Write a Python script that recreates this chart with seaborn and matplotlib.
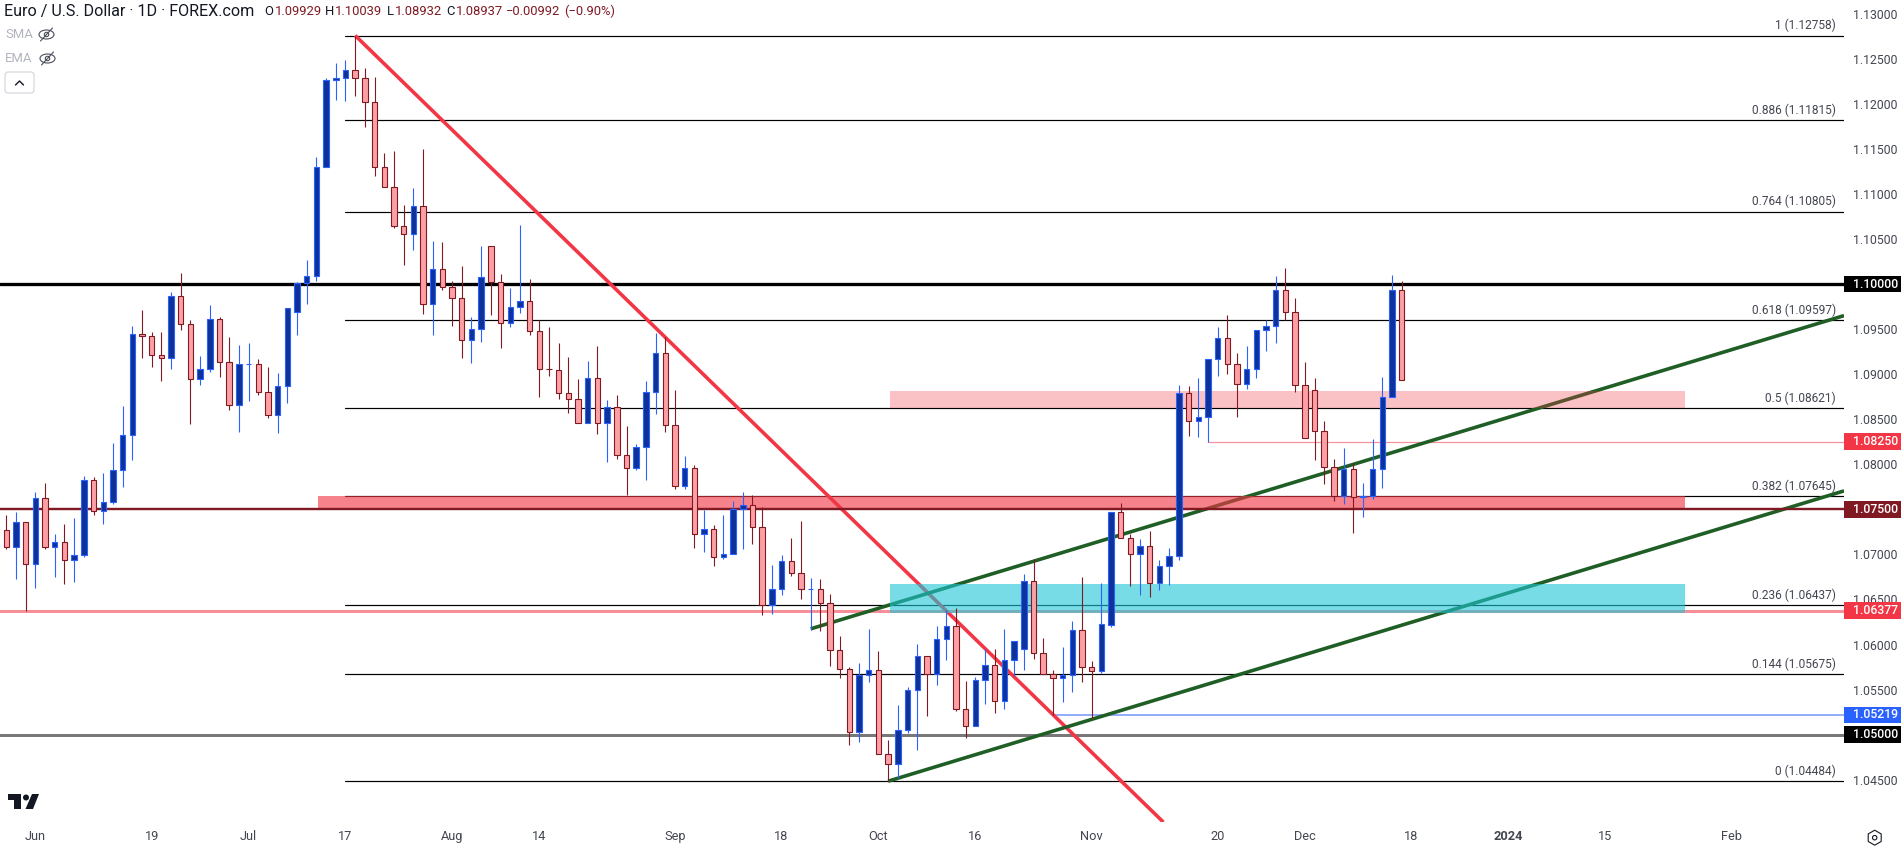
import numpy as np
import pandas as pd
import matplotlib
matplotlib.use('Agg')
import matplotlib.pyplot as plt
from matplotlib.patches import Rectangle, FancyBboxPatch, Ellipse, Circle, Polygon, RegularPolygon
import seaborn as sns

# daily EUR/USD candles
opens = [1.07269, 1.07077, 1.07358, 1.06892, 1.07625, 1.07077, 1.07136, 1.06936, 1.06992, 1.07824,
         1.07480, 1.07580, 1.07935, 1.08324, 1.09445, 1.09423, 1.09212, 1.09179, 1.09867, 1.09556,
         1.08946, 1.09057, 1.09612, 1.09134, 1.08657, 1.09112, 1.09112, 1.08801, 1.08546, 1.08868,
         1.09689, 1.10011, 1.10085, 1.11299, 1.12264, 1.12287, 1.12375, 1.12287, 1.12020, 1.11299,
         1.11077, 1.10640, 1.10555, 1.10862, 1.09778, 1.10167, 1.09967, 1.09845, 1.09378, 1.09501,
         1.10422, 1.10022, 1.09567, 1.09745, 1.09811, 1.09478, 1.09057, 1.09045, 1.08790, 1.08724,
         1.08457, 1.08957, 1.08457, 1.08635, 1.08106, 1.07954, 1.08187, 1.08801, 1.09234, 1.08435,
         1.07754, 1.07958, 1.07225, 1.07281, 1.06970, 1.07003, 1.07503, 1.07547, 1.07303, 1.06437,
         1.06615, 1.06925, 1.06792, 1.06615, 1.06615, 1.06459, 1.05937, 1.05727, 1.05027, 1.05660,
         1.05715, 1.04783, 1.04672, 1.05049, 1.05493, 1.05871, 1.05671, 1.06060, 1.06204, 1.05283,
         1.05094, 1.05604, 1.05771, 1.05371, 1.05826, 1.05949, 1.06703, 1.05904, 1.05671, 1.05627,
         1.05660, 1.06159, 1.05749, 1.05704, 1.06222, 1.07469, 1.07181, 1.07003, 1.07092, 1.06681,
         1.06870, 1.06981, 1.08790, 1.08479, 1.08524, 1.09168, 1.09401, 1.09112, 1.08890, 1.09057,
         1.09489, 1.09534, 1.09933, 1.09689, 1.08879, 1.08823, 1.08368, 1.07969, 1.07647, 1.07947,
         1.07636, 1.07647, 1.07947, 1.08746, 1.09929]
highs = [1.07440, 1.07473, 1.07358, 1.07691, 1.07791, 1.07229, 1.07340, 1.07406, 1.07873, 1.07861,
         1.07906, 1.08239, 1.08650, 1.09538, 1.09715, 1.09471, 1.09471, 1.09915, 1.10126, 1.09604,
         1.09205, 1.09771, 1.09637, 1.09415, 1.09327, 1.09349, 1.09171, 1.09082, 1.09016, 1.09734,
         1.10026, 1.10270, 1.11413, 1.12287, 1.12453, 1.12486, 1.12758, 1.12398, 1.12298, 1.11458,
         1.11480, 1.10881, 1.11066, 1.11502, 1.10481, 1.10470, 1.10037, 1.10204, 1.09637, 1.10426,
         1.10422, 1.10115, 1.09959, 1.10659, 1.10059, 1.09604, 1.09526, 1.09349, 1.09193, 1.08949,
         1.09149, 1.09316, 1.08716, 1.08772, 1.08428, 1.08228, 1.08927, 1.09460, 1.09412, 1.08827,
         1.08095, 1.07991, 1.07495, 1.07329, 1.07440, 1.07595, 1.07695, 1.07662, 1.07525, 1.06885,
         1.06996, 1.07184, 1.07373, 1.06737, 1.06729, 1.06563, 1.06097, 1.05749, 1.05797, 1.06171,
         1.05930, 1.04942, 1.05331, 1.05530, 1.06008, 1.05871, 1.06208, 1.06385, 1.06407, 1.05597,
         1.05641, 1.05949, 1.05952, 1.06174, 1.06037, 1.06785, 1.06948, 1.06074, 1.05719, 1.05974,
         1.06263, 1.06751, 1.05819, 1.06685, 1.07469, 1.07573, 1.07229, 1.07173, 1.07262, 1.06940,
         1.07073, 1.08883, 1.08872, 1.08960, 1.09168, 1.09526, 1.09660, 1.09238, 1.09316, 1.09489,
         1.09604, 1.10093, 1.10181, 1.09848, 1.09138, 1.08960, 1.08479, 1.08058, 1.08183, 1.08013,
         1.07795, 1.08283, 1.08971, 1.10104, 1.10039]
lows = [1.07062, 1.06729, 1.06367, 1.06629, 1.07062, 1.06751, 1.06674, 1.06696, 1.06966, 1.07440,
        1.07340, 1.07562, 1.07750, 1.08050, 1.09182, 1.09082, 1.08927, 1.09060, 1.09493, 1.08450,
        1.08883, 1.09027, 1.08971, 1.08605, 1.08361, 1.08705, 1.08772, 1.08516, 1.08350, 1.08683,
        1.09438, 1.09782, 1.10037, 1.11299, 1.12046, 1.12035, 1.12091, 1.11746, 1.11195, 1.11077,
        1.10618, 1.10215, 1.10381, 1.09671, 1.09438, 1.09937, 1.09530, 1.09182, 1.09127, 1.09360,
        1.09660, 1.09293, 1.09526, 1.09682, 1.09438, 1.08749, 1.08983, 1.08727, 1.08572, 1.08457,
        1.08457, 1.08339, 1.08028, 1.08061, 1.07662, 1.07939, 1.07828, 1.08561, 1.08361, 1.07728,
        1.07728, 1.07073, 1.07029, 1.06874, 1.06951, 1.07003, 1.07062, 1.07118, 1.06330, 1.06341,
        1.06552, 1.06763, 1.06507, 1.06163, 1.06152, 1.05764, 1.05630, 1.04887, 1.04920, 1.05586,
        1.04783, 1.04484, 1.04517, 1.05016, 1.04831, 1.05209, 1.05553, 1.05830, 1.05264, 1.04964,
        1.05094, 1.05342, 1.05242, 1.05286, 1.05653, 1.05719, 1.05841, 1.05671, 1.05219, 1.05364,
        1.05475, 1.05586, 1.05183, 1.05686, 1.06200, 1.07181, 1.06652, 1.06552, 1.06533, 1.06607,
        1.06663, 1.06940, 1.08317, 1.08305, 1.08250, 1.08983, 1.09005, 1.08527, 1.08838, 1.08960,
        1.09260, 1.09349, 1.09600, 1.08805, 1.08291, 1.08050, 1.07784, 1.07595, 1.07562, 1.07240,
        1.07417, 1.07617, 1.07739, 1.08746, 1.08932]
closes = [1.07077, 1.07358, 1.06892, 1.07625, 1.07077, 1.07136, 1.06936, 1.06992, 1.07824, 1.07480,
          1.07580, 1.07935, 1.08324, 1.09445, 1.09423, 1.09212, 1.09179, 1.09867, 1.09556, 1.08946,
          1.09057, 1.09612, 1.09134, 1.08657, 1.09112, 1.09112, 1.08801, 1.08546, 1.08868, 1.09734,
          1.10011, 1.10089, 1.11299, 1.12264, 1.12287, 1.12375, 1.12287, 1.12020, 1.11299, 1.11077,
          1.10640, 1.10555, 1.10862, 1.09778, 1.10167, 1.09967, 1.09845, 1.09378, 1.09501, 1.10078,
          1.10022, 1.09567, 1.09745, 1.09811, 1.09478, 1.09057, 1.09056, 1.08790, 1.08724, 1.08457,
          1.08957, 1.08457, 1.08635, 1.08098, 1.07954, 1.08191, 1.08801, 1.09234, 1.08435, 1.07754,
          1.07958, 1.07225, 1.07281, 1.06970, 1.07003, 1.07503, 1.07547, 1.07303, 1.06437, 1.06615,
          1.06925, 1.06792, 1.06615, 1.06615, 1.06459, 1.05937, 1.05727, 1.05027, 1.05660, 1.05715,
          1.04783, 1.04672, 1.05049, 1.05493, 1.05871, 1.05671, 1.06060, 1.06204, 1.05283, 1.05094,
          1.05604, 1.05771, 1.05371, 1.05826, 1.06037, 1.06703, 1.05904, 1.05671, 1.05627, 1.05660,
          1.06159, 1.05749, 1.05704, 1.06226, 1.07469, 1.07181, 1.07003, 1.07092, 1.06681, 1.06870,
          1.06981, 1.08790, 1.08479, 1.08524, 1.09168, 1.09401, 1.09112, 1.08890, 1.09057, 1.09489,
          1.09534, 1.09933, 1.09689, 1.08879, 1.08291, 1.08368, 1.07969, 1.07647, 1.07947, 1.07636,
          1.07647, 1.07947, 1.08746, 1.09929, 1.08937]

# fibonacci levels
fib_ratios = ['1', '0.886', '0.764', '0.618', '0.5', '0.382', '0.236', '0.144', '0']
fib_prices = [1.12758, 1.11815, 1.10805, 1.09597, 1.08621, 1.07645, 1.06437, 1.05675, 1.04484]

# price and time axis
price_ticks = [1.045, 1.05, 1.055, 1.06, 1.065, 1.07, 1.075, 1.08, 1.085, 1.09,
               1.095, 1.10, 1.105, 1.11, 1.115, 1.12, 1.125, 1.13]
time_ticks = [3, 15, 25, 35, 46, 55, 69, 80, 90, 100, 112, 125, 134, 145, 155, 165, 178]
time_labels = ['Jun', '19', 'Jul', '17', 'Aug', '14', 'Sep', '18', 'Oct', '16', 'Nov', '20',
               'Dec', '18', '2024', '15', 'Feb']

# price tags on the right
tag_prices = [1.10000, 1.08250, 1.07500, 1.06377, 1.05219, 1.05000]
tag_colors = ['#000000', '#f23645', '#801922', '#f23645', '#2962ff', '#000000']

# drawn trend lines, as (bar, price) ends
down_x, down_y = [36, 119.4], [1.12758, 1.04030]
low_x, low_y = [91, 189.64], [1.04484, 1.07705]
up_x, up_y = [83, 189.64], [1.06174, 1.09650]

UP_FILL, UP_EDGE = '#0f3299', '#2962ff'
DOWN_FILL, DOWN_EDGE = '#fca0a5', '#801922'
TEXT = '#434651'
FONT = 'Roboto'
AXIS_SIZE = 8.8
FIB_SIZE = 8.6

W, H = 1901, 849
px = 0.72

sns.set_theme(style='white')
plt.rcParams['font.family'] = [FONT, 'DejaVu Sans']

fig = plt.figure(figsize=(W / 100, H / 100), dpi=100, facecolor='white')
ax = fig.add_axes([0, 27 / H, 1844 / W, 822 / H])

df = pd.DataFrame({'bar': np.arange(len(opens)), 'open': opens, 'high': highs,
                   'low': lows, 'close': closes})
df['body_low'] = df[['open', 'close']].min(axis=1)
df['body'] = (df['open'] - df['close']).abs()
rising = df[df['close'] >= df['open']]
falling = df[df['close'] < df['open']]

# candles sit on top of all the drawings
for part, fill, edge in [(rising, UP_FILL, UP_EDGE), (falling, DOWN_FILL, DOWN_EDGE)]:
    ax.vlines(part['bar'], part['low'], part['high'], color=edge, lw=1.1 * px, zorder=3)
    sns.barplot(data=part, x='bar', y='body', bottom=part['body_low'].to_numpy(), native_scale=True,
                width=0.56, color=fill, saturation=1, edgecolor=edge, linewidth=1.1 * px,
                errorbar=None, ax=ax, zorder=3.1)

# fib retracement
for price in fib_prices:
    ax.plot([35, 189.64], [price, price], color='black', lw=1.2 * px, zorder=1)

# horizontal levels
ax.axhline(1.10, color='black', lw=3.3 * px, zorder=1.5)
ax.axhline(1.075, color='#801922', lw=2.4 * px, zorder=2.2)
ax.axhline(1.06377, color='#f88e98', lw=3 * px, zorder=1.3)
ax.axhline(1.05, color='#787878', lw=3 * px, zorder=1.3)
ax.plot([124, 189.64], [1.0825, 1.0825], color='#f7919a', lw=1.2 * px, zorder=1.3)
ax.plot([108, 189.64], [1.05219, 1.05219], color='#82a1fb', lw=1.7 * px, zorder=1.3)

# trend lines
ax.plot(down_x, down_y, color='#f23645', lw=3.6 * px, zorder=1.6, solid_capstyle='butt')
ax.plot(low_x, low_y, color='#1f5f26', lw=3.6 * px, zorder=1.6, solid_capstyle='butt')
ax.plot(up_x, up_y, color='#1f5f26', lw=3.6 * px, zorder=1.6, solid_capstyle='butt')

# zones
ax.add_patch(Rectangle((32.2, 1.075), 141, 0.00145, fc='#f23645', alpha=0.62, lw=0, zorder=2))
ax.add_patch(Rectangle((91.2, 1.08624), 82, 0.00192, fc='#f23645', alpha=0.3, lw=0, zorder=2))
ax.add_patch(Rectangle((91.2, 1.06349), 82, 0.00318, fc='#1cc6d5', alpha=0.6, lw=0, zorder=2))

ax.set_xlim(-0.653, 189.64)
ax.set_ylim(1.04031, 1.13152)
ax.set_xlabel('')
ax.set_ylabel('')
sns.despine(ax=ax, left=True, bottom=True)

ax.yaxis.tick_right()
ax.set_yticks(price_ticks)
ax.set_yticklabels([f'{p:.5f}' for p in price_ticks])
ax.set_xticks(time_ticks)
ax.set_xticklabels(time_labels)
ax.tick_params(axis='y', length=0, pad=6.3, labelsize=AXIS_SIZE, labelcolor=TEXT, right=False)
ax.tick_params(axis='x', length=0, pad=5.5, labelsize=AXIS_SIZE + 0.4, labelcolor=TEXT, bottom=False)
ax.get_xticklabels()[time_labels.index('2024')].set_fontweight('bold')

# fib labels
for ratio, price in zip(fib_ratios, fib_prices):
    ax.annotate(f'{ratio} ({price:.5f})', xy=(1, price), xycoords=ax.get_yaxis_transform(),
                xytext=(-5.8, 7.2), textcoords='offset points', ha='right', va='center',
                fontsize=FIB_SIZE, color=TEXT, zorder=5)

# price tags
tag_h = 0.00185
for price, color in zip(tag_prices, tag_colors):
    ax.add_patch(Rectangle((1, price - tag_h / 2), 57 / 1844, tag_h, fc=color, lw=0, clip_on=False,
                           transform=ax.get_yaxis_transform(), zorder=6))
    ax.text(1 + 8.7 / 1844, price, f'{price:.5f}', color='white', fontsize=AXIS_SIZE, weight='medium',
            va='center', ha='left', transform=ax.get_yaxis_transform(), clip_on=False, zorder=7)

# chart chrome in pixel coordinates
ovl = fig.add_axes([0, 0, 1, 1], zorder=10)
ovl.set_xlim(0, W)
ovl.set_ylim(H, 0)
ovl.axis('off')

ovl.text(4, 11, 'Euro / U.S. Dollar · 1D · FOREX.com', fontsize=11.6, color='#131722', va='center')
legend_parts = [(264, 'O', '#131722'), (275, '1.09929', '#801922'), (325, 'H', '#131722'),
                (335, '1.10039', '#801922'), (387, 'L', '#131722'), (395, '1.08932', '#801922'),
                (446, 'C', '#131722'), (456, '1.08937', '#801922'), (506, '−0.00992', '#801922'),
                (564, '(−0.90%)', '#801922')]
for x, label, color in legend_parts:
    ovl.text(x, 11, label, fontsize=9.4, color=color, va='center')

for y, name, cx in [(34.5, 'SMA', 46.5), (58.5, 'EMA', 47.5)]:
    ovl.text(5, y, name, fontsize=9.4, color='#b2b5be', va='center')
    ovl.add_patch(Ellipse((cx, y), 15, 9, fc='none', ec='#4a4e5a', lw=0.8))
    ovl.add_patch(Circle((cx, y), 2.2, fc='none', ec='#4a4e5a', lw=0.8))
    ovl.plot([cx - 6, cx + 6], [y + 6.5, y - 6.5], color='#4a4e5a', lw=0.8)

ovl.add_patch(FancyBboxPatch((7, 74), 25, 17, boxstyle='round,pad=2,rounding_size=3',
                             fc='white', ec='#d1d4dc', lw=0.8))
ovl.plot([15.5, 19.5, 23.5], [85, 81, 85], color='#131722', lw=1)

# logo
ovl.add_patch(Polygon([(8, 794), (21, 794), (21, 809), (14, 809), (14, 800), (8, 800)], fc='#131722', lw=0))
ovl.add_patch(Circle((26, 797.5), 3, fc='#131722', lw=0))
ovl.add_patch(Polygon([(32, 794), (39, 794), (33, 809), (25.5, 809)], fc='#131722', lw=0))

# settings icon
ovl.add_patch(RegularPolygon((1874.7, 837.7), 6, radius=7.5, fc='none', ec='#131722', lw=0.8))
ovl.add_patch(Circle((1874.7, 837.7), 2.2, fc='none', ec='#131722', lw=0.8))

fig.savefig('out.png', dpi=100)
plt.close(fig)
